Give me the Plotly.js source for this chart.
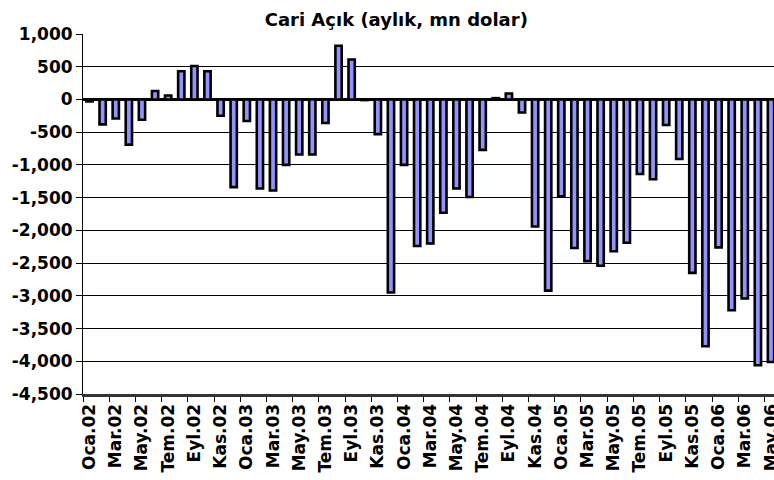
<!DOCTYPE html>
<html>
<head>
<meta charset="utf-8">
<script src="https://cdn.plot.ly/plotly-3.0.1.min.js"></script>
<style>
  html, body { margin: 0; padding: 0; background: #ffffff; }
  #chart { width: 774px; height: 480px; }
</style>
</head>
<body>
<div id="chart"></div>
<script>
// Months Jan 2002 – May 2006 (Turkish abbreviations)
const months = [
  "Oca.02","Şub.02","Mar.02","Nis.02","May.02","Haz.02","Tem.02","Ağu.02","Eyl.02","Eki.02","Kas.02","Ara.02",
  "Oca.03","Şub.03","Mar.03","Nis.03","May.03","Haz.03","Tem.03","Ağu.03","Eyl.03","Eki.03","Kas.03","Ara.03",
  "Oca.04","Şub.04","Mar.04","Nis.04","May.04","Haz.04","Tem.04","Ağu.04","Eyl.04","Eki.04","Kas.04","Ara.04",
  "Oca.05","Şub.05","Mar.05","Nis.05","May.05","Haz.05","Tem.05","Ağu.05","Eyl.05","Eki.05","Kas.05","Ara.05",
  "Oca.06","Şub.06","Mar.06","Nis.06","May.06"
];

// Current account balance (monthly, million USD)
const cariAcik = [
  -30, -380, -290, -690, -310, 130, 60, 430, 510, 430, -250, -1340,
  -330, -1360, -1390, -1000, -840, -840, -360, 820, 610, -10, -530, -2950,
  -1000, -2240, -2200, -1730, -1360, -1490, -770, 20, 90, -200, -1940, -2920,
  -1480, -2270, -2470, -2540, -2320, -2190, -1140, -1220, -390, -910, -2650, -3770,
  -2260, -3220, -3040, -4060, -4010
];

// Category labels shown on the x axis (every second month)
const xTickLabels = [
  "Oca.02","Mar.02","May.02","Tem.02","Eyl.02","Kas.02",
  "Oca.03","Mar.03","May.03","Tem.03","Eyl.03","Kas.03",
  "Oca.04","Mar.04","May.04","Tem.04","Eyl.04","Kas.04",
  "Oca.05","Mar.05","May.05","Tem.05","Eyl.05","Kas.05",
  "Oca.06","Mar.06","May.06"
];

// Y axis ticks
const yTickVals = [1000, 500, 0, -500, -1000, -1500, -2000, -2500, -3000, -3500, -4000, -4500];
const yTickText = ["1,000", "500", "0", "-500", "-1,000", "-1,500", "-2,000", "-2,500", "-3,000", "-3,500", "-4,000", "-4,500"];

const chartTitle = "Cari Açık (aylık, mn dolar)";

const fontFamily = "DejaVu Sans, Liberation Sans, Arial, sans-serif";

const trace = {
  type: "bar",
  x: months,
  y: cariAcik,
  width: 0.48,
  marker: {
    color: "#9393FF",
    line: { color: "#000000", width: 2.6 }
  },
  hoverinfo: "x+y"
};

const layout = {
  width: 774,
  height: 480,
  margin: { l: 83, r: 0, t: 34, b: 86, pad: 0 },
  paper_bgcolor: "#ffffff",
  plot_bgcolor: "#ffffff",
  showlegend: false,
  bargap: 0.5,
  title: {
    text: chartTitle,
    font: { family: fontFamily, size: 18, weight: "bold", color: "#000000" },
    xref: "container",
    x: 0.512,
    xanchor: "center",
    yref: "container",
    y: 0.958,
    yanchor: "middle"
  },
  xaxis: {
    type: "category",
    categoryorder: "array",
    categoryarray: months,
    range: [-0.5, 52.23],
    tickmode: "array",
    tickvals: xTickLabels,
    ticktext: xTickLabels,
    tickson: "boundaries",
    ticks: "outside",
    ticklen: 5,
    tickwidth: 1,
    tickcolor: "#000000",
    tickangle: -90,
    tickfont: { family: fontFamily, size: 17, weight: "bold", color: "#000000" },
    showgrid: false,
    showline: true,
    linecolor: "#333333",
    linewidth: 3,
    zeroline: false,
    fixedrange: true
  },
  yaxis: {
    range: [-4500, 1000],
    tickmode: "array",
    tickvals: yTickVals,
    ticktext: yTickText,
    ticks: "outside",
    ticklen: 6,
    tickwidth: 1,
    tickcolor: "#000000",
    tickfont: { family: fontFamily, size: 17, weight: "bold", color: "#000000" },
    showgrid: true,
    gridcolor: "#000000",
    gridwidth: 1,
    showline: true,
    linecolor: "#000000",
    linewidth: 1,
    zeroline: true,
    zerolinecolor: "#000000",
    zerolinewidth: 2.5,
    fixedrange: true
  }
};

Plotly.newPlot("chart", [trace], layout, { displayModeBar: false, staticPlot: true });
</script>
</body>
</html>
